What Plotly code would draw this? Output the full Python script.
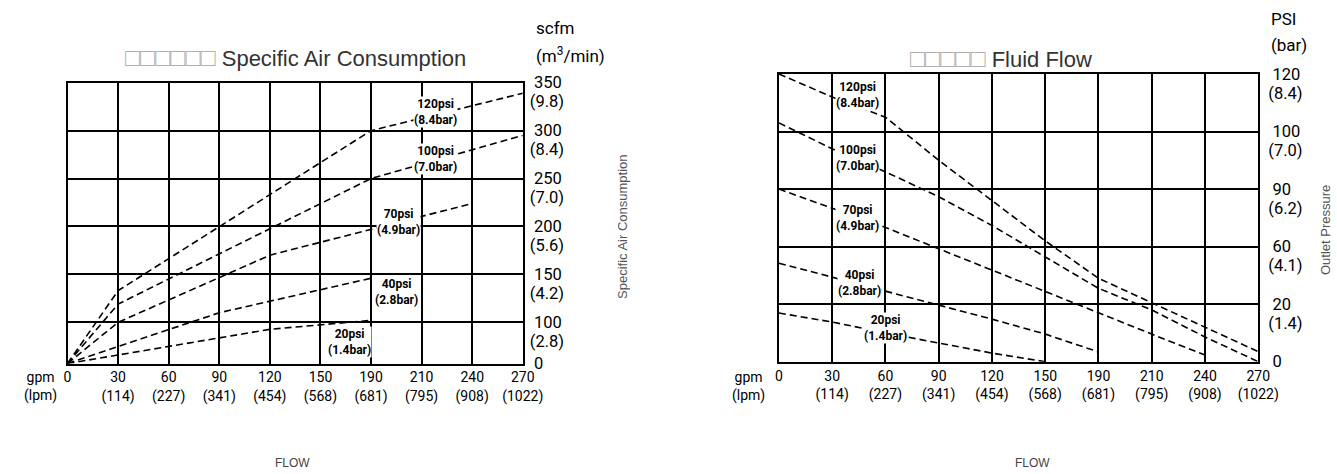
import numpy as np
import plotly.graph_objects as go

# flow axis, shared by both charts (evenly spaced columns)
flow_gpm = [0, 30, 60, 90, 120, 150, 190, 210, 240, 270]
flow_lpm = [None, 114, 227, 341, 454, 568, 681, 795, 908, 1022]

# air consumption axis (left chart)
air_scfm = [0, 100, 150, 200, 250, 300, 350]
air_m3 = [None, 2.8, 4.2, 5.6, 7.0, 8.4, 9.8]

# outlet pressure axis (right chart)
press_psi = [0, 20, 60, 90, 100, 120]
press_bar = [None, 1.4, 4.1, 6.2, 7.0, 8.4]

curve_labels = ['120psi<br>(8.4bar)', '100psi<br>(7.0bar)', '70psi<br>(4.9bar)',
                '40psi<br>(2.8bar)', '20psi<br>(1.4bar)']

# specific air consumption curves (gpm -> scfm)
air120_gpm = [0, 30, 190, 270]
air120_scfm = [0, 133, 300, 339]
air100_gpm = [0, 30, 190, 270]
air100_scfm = [0, 119, 250, 295]
air70_gpm = [0, 30, 120, 240]
air70_scfm = [0, 100, 170, 224]
air40_gpm = [0, 90, 190]
air40_scfm = [0, 110, 146]
air20_gpm = [0, 120, 190]
air20_scfm = [0, 83, 102]

# fluid flow curves (gpm -> outlet psi), read at each flow column
fluid120_psi = [120, 112, 105, 95, 84, 63, 38, 21, 12, 3.5]
fluid100_psi = [103, 97, 93, 86, 71, 53, 31, 18, 8.6, 0]
fluid70_psi = [90, 80, 70, 58.5, 43.5, 28.5, 17, 9.6, 2.3]
fluid40_psi = [48.5, 38.8, 29, 19.7, 14.8, 9.6, 3.4]
fluid20_psi = [16.9, 13.8, 10, 6.5, 3, 0]

# label anchors (gpm, value)
air_label_gpm = [218, 218, 201, 200, 173]
air_label_scfm = [319.5, 270, 204.7, 131.6, 52]
fluid_label_gpm = [44, 44, 44, 45.6, 60]
fluid_label_psi = [112.8, 95.4, 75, 34.8, 11.7]

# grid slots: the first air band is a little shorter than the others
flow_slot = list(range(len(flow_gpm)))
air_slot = [0, 0.86, 1.86, 2.86, 3.86, 4.86, 5.86]
press_slot = list(range(len(press_psi)))


def fx(v):
    return np.interp(v, flow_gpm, flow_slot)


def fa(v):
    return np.interp(v, air_scfm, air_slot)


def fp(v):
    return np.interp(v, press_psi, press_slot)


COND = "Roboto, sans-serif"
PLAIN = "Liberation Sans, Arial, sans-serif"
DASH = dict(color='black', width=1.6, dash='7px,4px')

fig = go.Figure()

air_curves = [(air120_gpm, air120_scfm), (air100_gpm, air100_scfm), (air70_gpm, air70_scfm),
              (air40_gpm, air40_scfm), (air20_gpm, air20_scfm)]
for g, s in air_curves:
    fig.add_trace(go.Scatter(x=fx(g), y=fa(s), mode='lines', line=DASH,
                             xaxis='x', yaxis='y', showlegend=False, hoverinfo='skip'))

for p in [fluid120_psi, fluid100_psi, fluid70_psi, fluid40_psi, fluid20_psi]:
    g = flow_gpm[:len(p)]
    fig.add_trace(go.Scatter(x=fx(g), y=fp(p), mode='lines', line=DASH,
                             xaxis='x2', yaxis='y2', showlegend=False, hoverinfo='skip'))

# empty traces so the second-line (metric) tick axes get drawn
for ya, xa in [('y3', 'x'), ('y4', 'x2')]:
    fig.add_trace(go.Scatter(x=[None], y=[None], xaxis=xa, yaxis=ya, showlegend=False,
                             hoverinfo='skip'))

flow_text = [str(g) if l is None else f"{g}<br>({l})" for g, l in zip(flow_gpm, flow_lpm)]
air_main = [str(s) for s in air_scfm]
air_sub = [f"({m})" for m in air_m3[1:]]
press_main = [str(s) for s in press_psi]
press_sub = [f"({b})" for b in press_bar[1:]]

frame = dict(showline=True, mirror=True, linecolor='black', linewidth=2,
             showgrid=True, gridcolor='black', gridwidth=2, zeroline=False,
             ticks='', tickmode='array', fixedrange=True, automargin=False)
plain_ax = dict(showline=False, showgrid=False, zeroline=False, ticks='', tickmode='array',
                fixedrange=True, automargin=False)
xfont = dict(family=COND, size=14, color='black')
yfont = dict(family=COND, size=16.5, color='black')

fig.update_layout(
    width=1337, height=474,
    margin=dict(l=0, r=0, t=0, b=0, autoexpand=False),
    paper_bgcolor='white', plot_bgcolor='white',
    showlegend=False,
    xaxis=dict(frame, domain=[0.0505, 0.391], range=[0, 9], tickvals=flow_slot,
               ticktext=flow_text, anchor='y', tickfont=xfont),
    yaxis=dict(frame, domain=[0.2331, 0.8255], range=[0, air_slot[-1]], tickvals=air_slot,
               ticktext=air_main, side='right', anchor='x', ticklabelstandoff=6, tickfont=yfont),
    yaxis3=dict(plain_ax, overlaying='y', range=[0, air_slot[-1]], tickvals=air_slot[1:],
                ticktext=air_sub, side='right', anchor='x', ticklabelstandoff=6,
                ticklabelshift=19, tickfont=yfont),
    xaxis2=dict(frame, domain=[0.5826, 0.9411], range=[0, 9], tickvals=flow_slot,
                ticktext=flow_text, anchor='y2', tickfont=xfont),
    yaxis2=dict(frame, domain=[0.2369, 0.8439], range=[0, 5], tickvals=press_slot,
                ticktext=press_main, side='right', anchor='x2', ticklabelstandoff=9, tickfont=yfont),
    yaxis4=dict(plain_ax, overlaying='y2', range=[0, 5], tickvals=press_slot[1:],
                ticktext=press_sub, side='right', anchor='x2', ticklabelstandoff=9,
                ticklabelshift=19, tickfont=yfont),
)

label_font = dict(family=COND, size=12, color='black', weight='bold')
ann = []
for t, g, s in zip(curve_labels, air_label_gpm, air_label_scfm):
    ann.append(dict(x=fx(g), y=fa(s), xref='x', yref='y', text=t, showarrow=False,
                    bgcolor='white', borderpad=0, font=label_font))
for t, g, p in zip(curve_labels, fluid_label_gpm, fluid_label_psi):
    ann.append(dict(x=fx(g), y=fp(p), xref='x2', yref='y2', text=t, showarrow=False,
                    bgcolor='white', borderpad=0, font=label_font))

unit_font = dict(family=COND, size=17, color='black')
title_font = dict(family=PLAIN, size=22, color='#333333')
boxes6 = "<span style='color:#b0b0b0;font-size:25px'>□□□□□□</span> "
boxes5 = "<span style='color:#b0b0b0;font-size:25px'>□□□□□</span> "
side_font = dict(family=PLAIN, size=13, color='#555555')
extra = [
    dict(text=boxes6 + "Specific Air Consumption", x=295 / 1337, y=1 - 57 / 474, font=title_font),
    dict(text=boxes5 + "Fluid Flow", x=1001 / 1337, y=1 - 58 / 474, font=title_font),
    dict(text="scfm", x=534 / 1337, y=1 - 28 / 474, xanchor='left', font=unit_font),
    dict(text="(m<sup>3</sup>/min)", x=534 / 1337, y=1 - 55 / 474, xanchor='left', font=unit_font),
    dict(text="PSI", x=1269 / 1337, y=1 - 19 / 474, xanchor='left', font=unit_font),
    dict(text="(bar)", x=1269 / 1337, y=1 - 45 / 474, xanchor='left', font=unit_font),
    dict(text="gpm<br>(lpm)", x=40 / 1337, y=1 - 386 / 474, font=xfont),
    dict(text="gpm<br>(lpm)", x=748 / 1337, y=1 - 386 / 474, font=xfont),
    dict(text="FLOW", x=292 / 1337, y=1 - 463 / 474, font=dict(family=PLAIN, size=12, color='#444444')),
    dict(text="FLOW", x=1032 / 1337, y=1 - 463 / 474, font=dict(family=PLAIN, size=12, color='#444444')),
    dict(text="Specific Air Consumption", x=622 / 1337, y=1 - 227 / 474, textangle=-90, font=side_font),
    dict(text="Outlet Pressure", x=1325 / 1337, y=1 - 230 / 474, textangle=-90, font=side_font),
]
for a in extra:
    a.setdefault('xanchor', 'center')
    a.update(xref='paper', yref='paper', showarrow=False, yanchor='middle')

fig.update_layout(annotations=ann + extra)
fig.write_html("out.html", config={'displayModeBar': False},
               post_script="document.body.style.margin='0';")
